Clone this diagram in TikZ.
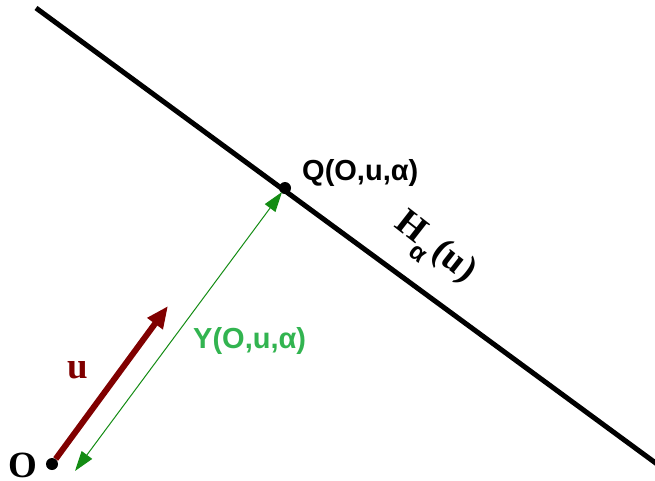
\documentclass[tikz,border=0pt]{standalone}
\usepackage{fontspec}
\setmainfont{Liberation Serif}
\setsansfont{Liberation Sans}
\usetikzlibrary{arrows.meta}
\definecolor{vecred}{RGB}{128,0,0}
\definecolor{ygreen}{RGB}{20,140,20}
\definecolor{ytext}{RGB}{50,180,80}
\begin{document}
\begin{tikzpicture}[x=1pt,y=-1pt,
  dot/.style={circle,fill=black,inner sep=0pt,minimum size=12pt},
  sanslbl/.style={font=\sffamily\bfseries\fontsize{29}{33}\selectfont,inner sep=0pt},
  seriflbl/.style={font=\bfseries\fontsize{37}{40}\selectfont,inner sep=0pt}]
\useasboundingbox (0,0) rectangle (655,480);
\coordinate (A) at (36,8);
\coordinate (B) at (657,464);
\draw[line width=5pt] (A) -- (B);
\node[dot] (Q) at (285,188) {};
\node[dot] (O) at (52,464) {};
\coordinate (U) at (168,306);
\coordinate (Y1) at (75,471);
\coordinate (Y2) at (282,192);
\draw[vecred,line width=6pt,-{Triangle[length=22pt,width=18pt]}] (O) -- (U);
\draw[ygreen,line width=1pt,{Triangle[length=20pt,width=13pt]}-{Triangle[length=20pt,width=13pt]}] (Y1) -- (Y2);
\node[sanslbl,anchor=west] (QL) at (302,173) {Q(O,u,α)};
\node[sanslbl,text=ytext,anchor=west] (YL) at (193,341) {Y(O,u,α)};
\node[seriflbl,text=vecred] (UL) at (78,370) {u};
\node[seriflbl] (OL) at (23,465) {O};
\node[seriflbl,rotate=-38] (HL) at (433,250) {H\raisebox{-14pt}{\sffamily\bfseries\fontsize{25}{27}\selectfont α}\kern3pt(u)};
\end{tikzpicture}
\end{document}
